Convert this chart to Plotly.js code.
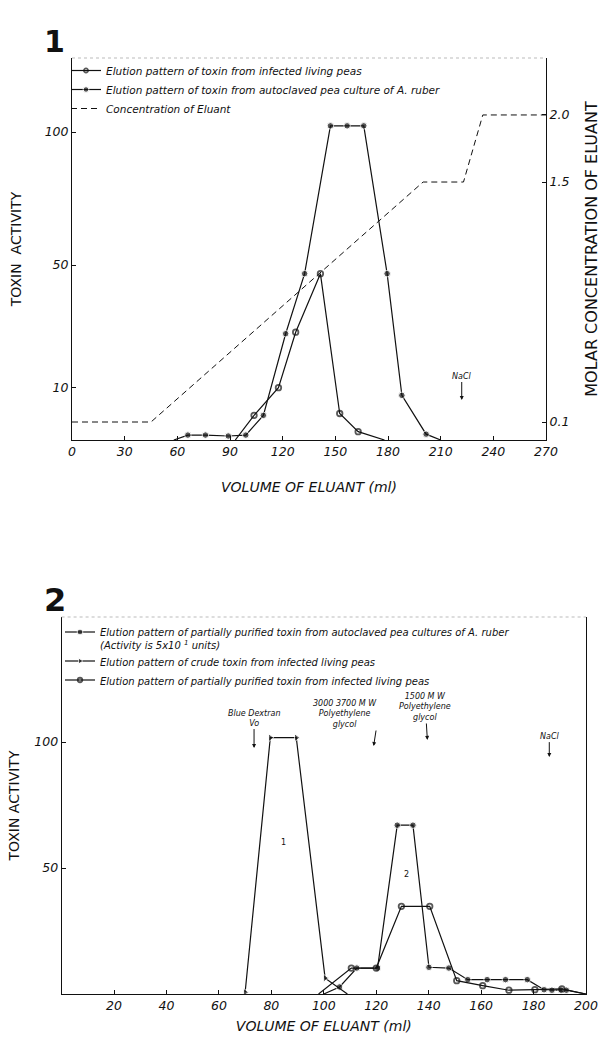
<!DOCTYPE html>
<html>
<head>
<meta charset="utf-8">
<script src="https://cdn.plot.ly/plotly-3.0.1.min.js"></script>
<style>html,body{margin:0;padding:0;background:#fff}#chart{width:601px;height:1047px}</style>
</head>
<body>
<div id="chart"></div>
<script>
// ---------- Figure 1 data ----------
const volOpen1 = [93, 103.7, 117.6, 127.4, 141.5, 152.5, 163, 178];
const actOpen1 = [0, 8, 17, 35, 54, 8.6, 2.7, 0];
const volFilled1 = [58, 66, 76, 89, 99, 109, 121.7, 132.5, 147.2, 156.7, 166.2, 179.5, 187.9, 201.7, 210];
const actFilled1 = [0, 1.6, 1.6, 1.3, 1.6, 8, 34.5, 54, 102, 102, 102, 54, 14.5, 1.9, 0];
const volConc1 = [0, 45, 200, 223, 234, 270];
const concEluant1 = [0.1, 0.1, 1.585, 1.585, 2.0, 2.0];
const xTicks1 = [0, 30, 60, 90, 120, 150, 180, 210, 240, 270];
const yTickText1 = ['10', '50', '100'];
const yTickPos1 = [16.9, 56.8, 100];
const y3TickText1 = ['0.1', '1.5', '2.0'];
const y3TickPos1 = [0.1, 1.585, 2.0];

// ---------- Figure 2 data ----------
const volCrude2 = [70, 79.6, 89.5, 100.5, 109];
const actCrude2 = [0.7, 101.7, 101.7, 6.3, 0];
const volAuto2 = [100, 106, 112.6, 120.5, 128, 134, 140.1, 147.7, 154.9, 162.3, 169.3, 177.6, 184, 187, 190.5, 192.5, 200];
const actAuto2 = [0, 2.8, 10.3, 10.3, 67, 67, 10.6, 10.3, 5.7, 5.7, 5.7, 5.7, 1.7, 1.5, 1.6, 1.5, 0];
const volLiving2 = [98, 110.5, 120, 129.6, 140.4, 150.7, 160.6, 170.6, 180.5, 190.8, 200];
const actLiving2 = [0, 10.3, 10.3, 34.8, 34.8, 5.3, 3.3, 1.5, 1.7, 2.0, 0];
const xTicks2 = [20, 40, 60, 80, 100, 120, 140, 160, 180, 200];
const yTicks2 = [50, 100];

const FONT = 'DejaVu Sans';
const BLACK = '#111';
const sz = (arr, s) => arr.map(v => v === 0 ? 0 : s);

const openMarker = arr => ({symbol: 'circle-open', size: sz(arr, 5.5), color: BLACK, line: {color: BLACK, width: 1.8}});
const filledMarker = arr => ({symbol: 'circle', size: sz(arr, 6.5), color: BLACK});

const traces = [
  {
    x: volOpen1, y: actOpen1, xaxis: 'x', yaxis: 'y', legend: 'legend',
    name: 'Elution pattern of toxin from infected living peas',
    mode: 'lines+markers', line: {color: BLACK, width: 1.2}, marker: openMarker(actOpen1)
  },
  {
    x: volFilled1, y: actFilled1, xaxis: 'x', yaxis: 'y', legend: 'legend',
    name: 'Elution pattern of toxin from autoclaved pea culture of A. ruber',
    mode: 'lines+markers', line: {color: BLACK, width: 1.2}, marker: filledMarker(actFilled1)
  },
  {
    x: volConc1, y: concEluant1, xaxis: 'x', yaxis: 'y3', legend: 'legend',
    name: 'Concentration of Eluant',
    mode: 'lines', line: {color: BLACK, width: 1, dash: '6px,4px'}
  },
  {
    x: volAuto2, y: actAuto2, xaxis: 'x2', yaxis: 'y2', legend: 'legend2',
    name: 'Elution pattern of partially purified toxin from autoclaved pea cultures of A. ruber<br>(Activity is 5x10 <sup>1</sup> units)',
    mode: 'lines+markers', line: {color: BLACK, width: 1.2}, marker: filledMarker(actAuto2)
  },
  {
    x: volCrude2, y: actCrude2, xaxis: 'x2', yaxis: 'y2', legend: 'legend2',
    name: 'Elution pattern of crude toxin from infected living peas',
    mode: 'lines+markers', line: {color: BLACK, width: 1.2},
    marker: {symbol: 'triangle-right', size: sz(actCrude2, 7), color: BLACK}
  },
  {
    x: volLiving2, y: actLiving2, xaxis: 'x2', yaxis: 'y2', legend: 'legend2',
    name: 'Elution pattern of partially purified toxin from infected living peas',
    mode: 'lines+markers', line: {color: BLACK, width: 1.2}, marker: openMarker(actLiving2)
  }
];

const W = 601, H = 1047;
const px = v => v / W, py = v => 1 - v / H;

const axBase = {
  showline: true, linecolor: BLACK, linewidth: 1, zeroline: false, showgrid: false,
  ticks: 'inside', ticklen: 4, tickcolor: BLACK, tickwidth: 1,
  tickfont: {family: FONT, size: 12.5, style: 'italic', color: BLACK}
};
const smallItalic = {family: FONT, size: 8, style: 'italic', color: BLACK};
const arrowStyle = {showarrow: true, arrowhead: 2, arrowsize: 0.8, arrowwidth: 1, arrowcolor: BLACK};

const layout = {
  width: W, height: H,
  margin: {l: 0, r: 0, t: 0, b: 0},
  paper_bgcolor: '#fff', plot_bgcolor: '#fff',
  font: {family: FONT, color: BLACK},
  showlegend: true,
  xaxis: Object.assign({}, axBase, {
    domain: [px(72), px(546)], range: [0, 270], anchor: 'y',
    tickmode: 'array', tickvals: xTicks1,
    title: {text: 'VOLUME OF ELUANT <i>(ml)</i>', font: {family: FONT, size: 14, style: 'italic', color: BLACK}, standoff: 24}
  }),
  yaxis: Object.assign({}, axBase, {
    domain: [py(440), py(58)], range: [0, (440 - 58) / 3.08], anchor: 'x',
    tickmode: 'array', tickvals: yTickPos1, ticktext: yTickText1,
    title: {text: 'TOXIN  ACTIVITY', font: {family: FONT, size: 14, color: BLACK}, standoff: 19}
  }),
  yaxis3: Object.assign({}, axBase, {
    overlaying: 'y', side: 'right', anchor: 'x',
    range: [0.1 - 18 / 161.6, 0.1 + 364 / 161.6],
    tickmode: 'array', tickvals: y3TickPos1, ticktext: y3TickText1,
    title: {text: 'MOLAR CONCENTRATION OF ELUANT', font: {family: FONT, size: 16, color: BLACK}, standoff: 18}
  }),
  xaxis2: Object.assign({}, axBase, {
    domain: [px(61.6), px(586)], range: [0, 200], anchor: 'y2',
    tickmode: 'array', tickvals: xTicks2,
    title: {text: 'VOLUME OF ELUANT <i>(ml)</i>', font: {family: FONT, size: 14, style: 'italic', color: BLACK}, standoff: 9}
  }),
  yaxis2: Object.assign({}, axBase, {
    domain: [py(994), py(617)], range: [0, (994 - 617) / 2.52], anchor: 'x2', mirror: true,
    tickmode: 'array', tickvals: yTicks2,
    title: {text: 'TOXIN ACTIVITY', font: {family: FONT, size: 14, color: BLACK}, standoff: 11}
  }),
  legend: {
    x: px(66), y: py(56), xanchor: 'left', yanchor: 'top',
    bgcolor: 'rgba(0,0,0,0)', borderwidth: 0,
    font: {family: FONT, size: 10.5, style: 'italic', color: BLACK}, itemwidth: 30
  },
  legend2: {
    x: px(60), y: py(619), xanchor: 'left', yanchor: 'top', valign: 'top',
    bgcolor: 'rgba(0,0,0,0)', borderwidth: 0,
    font: {family: FONT, size: 10, style: 'italic', color: BLACK}, itemwidth: 30
  },
  shapes: [
    {type: 'line', xref: 'paper', yref: 'paper', x0: px(72), x1: px(546), y0: py(58), y1: py(58), line: {color: '#bbb', width: 1, dash: 'dot'}},
    {type: 'line', xref: 'paper', yref: 'paper', x0: px(61.6), x1: px(586), y0: py(617), y1: py(617), line: {color: '#bbb', width: 1, dash: 'dot'}}
  ],
  annotations: [
    {text: '<b>1</b>', xref: 'paper', yref: 'paper', x: px(42), y: py(22), showarrow: false, font: {family: FONT, size: 30, color: BLACK}},
    {text: '<b>2</b>', xref: 'paper', yref: 'paper', x: px(42), y: py(600), showarrow: false, font: {family: FONT, size: 32, color: BLACK}},
    Object.assign({text: 'NaCl', xref: 'x', yref: 'y', x: 222, y: (440 - 400) / 3.08, ax: 0, ay: -24, font: smallItalic}, arrowStyle),
    Object.assign({text: 'Blue Dextran<br>Vo', xref: 'x2', yref: 'y2', x: 73.4, y: 97.6, ax: 0, ay: -30, font: smallItalic}, arrowStyle),
    Object.assign({text: '3000 3700 M W<br>Polyethylene<br>glycol', xref: 'x2', yref: 'y2', x: 119, y: 98.4, ax: 5, ay: -32, xanchor: 'right', font: smallItalic}, arrowStyle),
    Object.assign({text: '1500 M W<br>Polyethylene<br>glycol', xref: 'x2', yref: 'y2', x: 139.5, y: 100.8, ax: -2, ay: -33, font: smallItalic}, arrowStyle),
    Object.assign({text: 'NaCl', xref: 'x2', yref: 'y2', x: 186, y: 94, ax: 0, ay: -21, font: smallItalic}, arrowStyle),
    {text: '1', xref: 'x2', yref: 'y2', x: 84.5, y: 60, showarrow: false, font: {family: FONT, size: 8, color: BLACK}},
    {text: '2', xref: 'x2', yref: 'y2', x: 131.7, y: 47.4, showarrow: false, font: {family: FONT, size: 8, color: BLACK}}
  ]
};

Plotly.newPlot('chart', traces, layout, {displayModeBar: false, staticPlot: true});
</script>
</body>
</html>
